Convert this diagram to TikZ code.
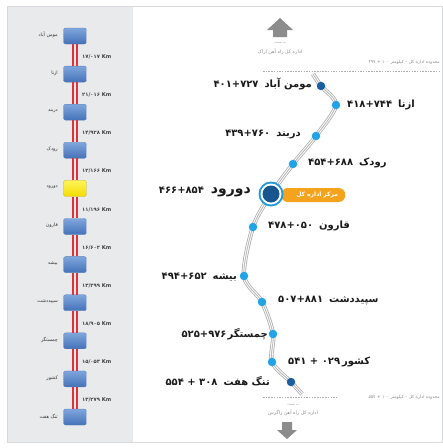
\documentclass[tikz,border=0pt]{standalone}
\usepackage{fontspec}
\setmainfont{DejaVu Sans}
\newfontfamily\fa[Script=Arabic]{DejaVu Sans}
\TeXXeTstate=1
\definecolor{panelfill}{HTML}{E9EAEC}
\definecolor{paneledge}{HTML}{D8D9DC}
\definecolor{sqtop}{HTML}{7FA6DC}
\definecolor{sqbot}{HTML}{4571B8}
\definecolor{sqedge}{HTML}{5A7FB8}
\definecolor{yeltop}{HTML}{FFF45A}
\definecolor{yelbot}{HTML}{F2DC00}
\definecolor{railred}{HTML}{E0303A}
\definecolor{dotlight}{HTML}{22A3E6}
\definecolor{dotdark}{HTML}{1A5E9E}
\definecolor{pill}{HTML}{F5A21C}
\definecolor{greytext}{HTML}{8A8A8A}
\definecolor{arrowgrey}{HTML}{8C8C8C}
\tikzset{
  sqbox/.style={rectangle, rounded corners=2.2pt, minimum width=23pt, minimum height=16pt, inner sep=0pt, top color=sqtop, bottom color=sqbot, draw=sqedge, line width=0.3pt},
  yelbox/.style={sqbox, top color=yeltop, bottom color=yelbot, draw=yelbot!80!black},
  rail/.style={railred, line width=1.7pt},
  namelab/.style={font=\fa\fontsize{4.8}{5}\selectfont, text=black!80, inner sep=0pt, anchor=east},
  kmlab/.style={font=\fa\bfseries\fontsize{5.2}{6}\selectfont, text=black!75, inner sep=0pt, anchor=west},
  dotL/.style={circle, fill=dotlight, minimum size=8.5pt, inner sep=0pt},
  dotD/.style={circle, fill=dotdark, minimum size=8.5pt, inner sep=0pt},
  stlab/.style={font=\fa\bfseries\fontsize{10}{12}\selectfont, text=black!90, inner sep=0pt},
  smallgrey/.style={font=\fa\fontsize{4.8}{6}\selectfont, text=greytext, inner sep=0pt},
  tinygrey/.style={font=\fa\fontsize{3.2}{4}\selectfont, text=greytext!80, inner sep=0pt},
  dashline/.style={greytext!70, dashed, dash pattern=on 1.5pt off 1.2pt, line width=0.5pt},
}
\begin{document}
\begin{tikzpicture}[x=1pt,y=-1pt]
\useasboundingbox (0,0) rectangle (443,448);
% frame and left panel
\fill[panelfill] (7,6.5) rectangle (133,442);
\draw[paneledge, line width=0.8pt] (7,6.5) rectangle (442,442);
% squares
\foreach \nm [count=\i from 0] in {مومن آباد, ازنا, دربند, رودک, دورود, قارون, بیشه, سپیددشت, چمستگر, کشور, تنگ هفت}{
  \pgfmathsetmacro{\yy}{36+38.1*\i}
  \ifnum\i=4
    \node[yelbox] (sq\i) at (75,\yy) {};
  \else
    \node[sqbox] (sq\i) at (75,\yy) {};
  \fi
  \node[namelab] (nm\i) at (58,\yy-1) {\beginR\nm\endR};
}
\foreach \k [count=\i from 0] in {۱۷/۰۱۷, ۲۱/۰۱۶, ۱۴/۹۲۸, ۱۲/۱۶۶, ۱۱/۱۹۶, ۱۶/۶۰۲, ۱۳/۲۹۹, ۱۸/۹۰۵, ۱۵/۰۵۳, ۱۳/۲۷۹}{
  \pgfmathtruncatemacro{\j}{\i+1}
  \pgfmathsetmacro{\ym}{36+38.1*\i+21}
  \draw[rail] ([xshift=-1.8pt]sq\i.south) -- ([xshift=-1.8pt]sq\j.north);
  \draw[rail] ([xshift=1.8pt]sq\i.south) -- ([xshift=1.8pt]sq\j.north);
  \node[kmlab] (km\i) at (82,\ym) {\k{} Km};
}
% right panel: arrows and limits
\fill[arrowgrey] (280,18) -- (293,30) -- (287,30) -- (287,37) -- (273,37) -- (273,30) -- (267,30) -- cycle;
\node[tinygrey] (tsa) at (280,43.5) {\beginR به سمت\endR};
\node[smallgrey] (tdest) at (280,51.5) {\beginR اداره کل راه آهن اراک\endR};
\node[smallgrey, anchor=east, font=\fa\fontsize{4.4}{5}\selectfont] (tlim) at (440,62) {\beginR محدوده اداره کل – کیلومتر \beginL۳۹۹ + ۱۰۰\endL\endR};
\coordinate (tl1) at (263,71); \coordinate (tl2) at (441,71);
\draw[dashline] (tl1) -- (tl2);

\fill[arrowgrey] (287,439) -- (297,430) -- (292,430) -- (292,422) -- (282,422) -- (282,430) -- (277,430) -- cycle;
\node[tinygrey] (bsa) at (293,405) {\beginR به سمت\endR};
\node[smallgrey] (bdest) at (293,413) {\beginR اداره کل راه آهن زاگرس\endR};
\node[smallgrey, anchor=east, font=\fa\fontsize{4.4}{5}\selectfont] (blim) at (440,397) {\beginR محدوده اداره کل – کیلومتر \beginL۵۵۷ + ۱۰۰\endL\endR};
\coordinate (bl1) at (263,397); \coordinate (bl2) at (337,397);
\draw[dashline] (bl1) -- (bl2);

% track
\coordinate (c0) at (321,86);
\coordinate (c1) at (336,105);
\coordinate (c2) at (316,136);
\coordinate (c3) at (293,164);
\coordinate (c4) at (271,194);
\coordinate (c5) at (253,227);
\coordinate (c6) at (244,276);
\coordinate (c7) at (262,302);
\coordinate (c8) at (273,334);
\coordinate (c9) at (272,362);
\coordinate (c10) at (291,382);
\coordinate (ts) at (313,74);
\coordinate (te) at (302,394);
\foreach \w/\c in {4.4pt/gray!65, 2.8pt/white, 0.9pt/gray!55}{
  \draw[line width=\w, color=\c, line cap=butt] plot[smooth, tension=0.5] coordinates {(ts) (c0) (c1) (c2) (c3) (c4) (c5) (c6) (c7) (c8) (c9) (c10) (te)};
}
% dots
\node[dotD] (d0) at (c0) {};
\node[dotL] (d1) at (c1) {};
\node[dotL] (d2) at (c2) {};
\node[dotL] (d3) at (c3) {};
\node[dotL] (d5) at (c5) {};
\node[dotL] (d6) at (c6) {};
\node[dotL] (d7) at (c7) {};
\node[dotL] (d8) at (c8) {};
\node[dotL] (d9) at (c9) {};
\node[dotD] (d10) at (c10) {};
% pill and big station
\node[fill=pill, rounded corners=6.5pt, minimum width=64pt, minimum height=14pt, inner sep=0pt, text=white, font=\fa\bfseries\fontsize{6}{7}\selectfont, anchor=west] (hq) at (281,195) {\hspace{8pt}\beginR مرکز اداره کل\endR};
\node[circle, fill=dotlight!85!dotdark, minimum size=25pt, inner sep=0pt] (d4) at (c4) {};
\fill[white] (c4) circle (10.5pt);
\fill[dotdark!90!black] (c4) circle (8.5pt);
% labels
\node[stlab, anchor=east] (l0) at (312,84) {\beginR مومن آباد\hspace{6pt}\beginL۴۰۱+۷۲۷\endL\endR};
\node[stlab, anchor=west] (l1) at (347,105) {\beginR ازنا\hspace{6pt}\beginL۴۱۸+۷۴۴\endL\endR};
\node[stlab, anchor=east] (l2) at (301,134) {\beginR دربند\hspace{6pt}\beginL۴۳۹+۷۶۰\endL\endR};
\node[stlab, anchor=west] (l3) at (308,163) {\beginR رودک\hspace{6pt}\beginL۴۵۴+۶۸۸\endL\endR};
\node[stlab, anchor=east] (l4) at (251,192) {\beginR{\fontsize{14}{16}\selectfont دورود}\hspace{7pt}\beginL۴۶۶+۸۵۴\endL\endR};
\node[stlab, anchor=west] (l5) at (268,226) {\beginR قارون\hspace{6pt}\beginL۴۷۸+۰۵۰\endL\endR};
\node[stlab, anchor=east] (l6) at (237,277) {\beginR بیشه\hspace{6pt}\beginL۴۹۴+۶۵۲\endL\endR};
\node[stlab, anchor=west] (l7) at (278,301) {\beginR سپیددشت\hspace{6pt}\beginL۵۰۷+۸۸۱\endL\endR};
\node[stlab, anchor=east] (l8) at (268,334) {\beginR چمستگر\hspace{1pt}\beginL۵۲۵+۹۷۶\endL\endR};
\node[stlab, anchor=west] (l9) at (288,362) {\beginR کشور\hspace{2pt}\beginL۵۴۱ + ۰۲۹\endL\endR};
\node[stlab, anchor=east] (l10) at (270,381) {\beginR تنگ هفت\hspace{6pt}\beginL۵۵۴ + ۳۰۸\endL\endR};
\end{tikzpicture}
\end{document}
